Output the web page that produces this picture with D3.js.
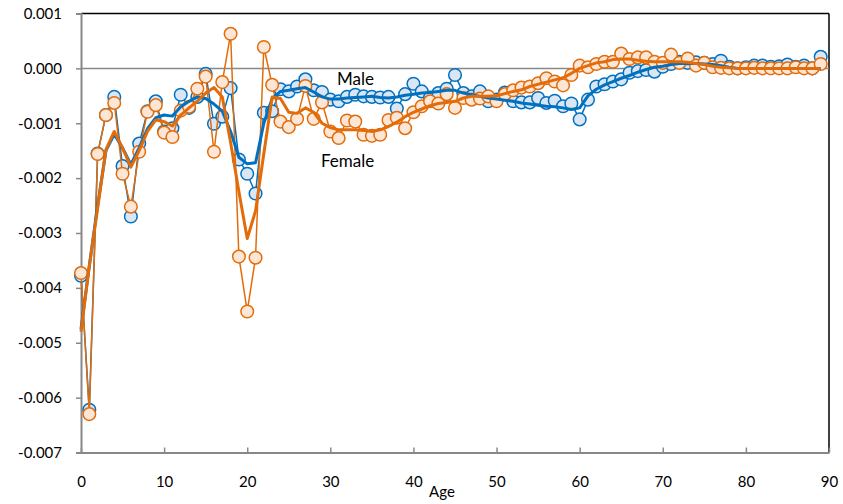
<!DOCTYPE html>
<html><head><meta charset="utf-8">
<script src="https://cdn.jsdelivr.net/npm/d3@7"></script>
<style>
html,body{margin:0;padding:0;background:#fff;}
svg text{font-family:Lato,"Open Sans",sans-serif;fill:#000;}
</style></head><body>
<svg id="chart" width="843" height="504"></svg>
<script>
const ages = d3.range(0, 90);
const maleValues = [-3.78,-6.22,-1.55,-0.85,-0.52,-1.78,-2.70,-1.37,-0.78,-0.60,
 -1.15,-1.09,-0.48,-0.72,-0.52,-0.10,-1.01,-0.88,-0.36,-1.66,
 -1.92,-2.28,-0.81,-0.78,-0.38,-0.42,-0.33,-0.20,-0.40,-0.43,
 -0.57,-0.60,-0.52,-0.48,-0.51,-0.52,-0.53,-0.52,-0.73,-0.47,
 -0.28,-0.42,-0.53,-0.45,-0.37,-0.12,-0.45,-0.51,-0.42,-0.60,
 -0.57,-0.44,-0.60,-0.62,-0.62,-0.54,-0.63,-0.59,-0.69,-0.64,
 -0.93,-0.57,-0.33,-0.29,-0.24,-0.20,-0.08,-0.05,-0.03,-0.06,
 0.03,0.08,0.12,0.10,0.11,0.10,0.08,0.14,0.03,0.00,
 0.02,0.05,0.05,0.03,0.04,0.07,0.03,0.05,0.00,0.21];
const femaleValues = [-3.73,-6.30,-1.56,-0.85,-0.63,-1.92,-2.52,-1.52,-0.79,-0.67,
 -1.17,-1.25,-0.77,-0.70,-0.37,-0.15,-1.52,-0.25,0.63,-3.43,
 -4.43,-3.45,0.39,-0.30,-0.97,-1.07,-0.92,-0.32,-0.92,-0.62,
 -1.15,-1.27,-0.95,-0.97,-1.21,-1.23,-1.21,-0.94,-0.90,-1.09,
 -0.80,-0.69,-0.60,-0.64,-0.47,-0.72,-0.54,-0.57,-0.55,-0.51,
 -0.60,-0.47,-0.40,-0.35,-0.33,-0.27,-0.18,-0.24,-0.31,-0.12,
 0.05,0.02,0.08,0.12,0.12,0.27,0.17,0.20,0.20,0.12,
 0.10,0.25,0.10,0.18,0.05,0.10,0.02,0.01,0.00,0.00,
 0.00,0.01,0.00,0.00,0.00,0.00,0.02,0.00,0.00,0.08];
const maleTrend = [-4.75,-3.60,-2.50,-1.50,-1.20,-1.45,-1.75,-1.45,-1.10,-0.90,
 -0.85,-0.87,-0.70,-0.60,-0.52,-0.55,-0.65,-0.78,-1.15,-1.62,
 -1.74,-1.72,-1.00,-0.55,-0.42,-0.40,-0.37,-0.35,-0.43,-0.52,
 -0.56,-0.56,-0.54,-0.53,-0.52,-0.51,-0.53,-0.54,-0.52,-0.49,
 -0.47,-0.45,-0.44,-0.42,-0.40,-0.40,-0.45,-0.48,-0.51,-0.54,
 -0.56,-0.58,-0.60,-0.63,-0.65,-0.67,-0.69,-0.70,-0.72,-0.75,
 -0.72,-0.50,-0.38,-0.30,-0.24,-0.18,-0.13,-0.07,-0.02,0.02,
 0.04,0.07,0.09,0.09,0.09,0.08,0.07,0.05,0.02,0.00,
 0.00,0.00,0.00,0.00,0.00,0.00,0.00,0.00,0.00,0.00];
const femaleTrend = [-4.80,-3.60,-2.55,-1.48,-1.15,-1.45,-1.80,-1.50,-1.15,-0.94,
 -0.97,-1.05,-0.85,-0.72,-0.60,-0.45,-0.35,-0.52,-1.35,-2.25,
 -3.10,-2.60,-1.55,-0.52,-0.55,-0.80,-0.82,-0.72,-0.80,-1.00,
 -1.08,-1.12,-1.12,-1.12,-1.13,-1.15,-1.12,-1.06,-0.98,-0.88,
 -0.80,-0.74,-0.68,-0.64,-0.62,-0.60,-0.54,-0.51,-0.51,-0.51,
 -0.50,-0.46,-0.42,-0.39,-0.33,-0.29,-0.25,-0.21,-0.17,-0.09,
 0.00,0.05,0.10,0.12,0.16,0.17,0.17,0.15,0.13,0.12,
 0.12,0.12,0.12,0.11,0.09,0.07,0.04,0.02,0.01,0.00,
 0.00,0.00,0.00,0.00,0.00,0.00,0.00,0.00,0.00,0.00];
const yTicks = [0.001,0,-0.001,-0.002,-0.003,-0.004,-0.005,-0.006,-0.007];
const xTicks = [0,10,20,30,40,50,60,70,80,90];
const seriesLabels = ["Male","Female"];
const xTitle = "Age";

const svg = d3.select("#chart");
const x = d3.scaleLinear().domain([0,90]).range([81,829]);
const y = d3.scaleLinear().domain([-0.007,0.001]).range([452.5,13.5]);
const blue = "#0070C0", blueFill = "#DAE6F3";
const orange = "#E36C0A", orangeFill = "#FDE6D5";

// frame top/right
svg.append("line").attr("x1",x(0)).attr("x2",x(90)).attr("y1",y(0.001)).attr("y2",y(0.001)).attr("stroke","#000").attr("stroke-width",1.5);
svg.append("line").attr("x1",x(90)).attr("x2",x(90)).attr("y1",y(0.001)).attr("y2",y(-0.007)).attr("stroke","#000").attr("stroke-width",1.5);
// zero line
svg.append("line").attr("x1",x(0)).attr("x2",x(90)).attr("y1",y(0)).attr("y2",y(0)).attr("stroke","#888").attr("stroke-width",1.5);

// y axis
const yAxis = svg.append("g").attr("transform",`translate(${x(0)},0)`)
  .call(d3.axisLeft(y).tickValues(yTicks).tickSize(5).tickPadding(14)
    .tickFormat(d => d3.format(".3f")(d).replace("\u2212","-")));
yAxis.select(".domain").attr("stroke","#888").attr("stroke-width",2);
yAxis.selectAll(".tick line").attr("stroke","#888").attr("stroke-width",1.5);
yAxis.selectAll(".tick text").style("font-size","15px").style("font-family","Lato, sans-serif");

// x axis (ticks inward)
const xAxis = svg.append("g").attr("transform",`translate(0,${y(-0.007)})`)
  .call(d3.axisBottom(x).tickValues(xTicks).tickSizeInner(-5).tickSizeOuter(0).tickPadding(24).tickFormat(d3.format("d")));
xAxis.select(".domain").attr("stroke","#888").attr("stroke-width",2);
xAxis.selectAll(".tick line").attr("stroke","#888").attr("stroke-width",1.5);
xAxis.selectAll(".tick text").style("font-size","15px").style("font-family","Lato, sans-serif");

svg.append("text").attr("x",442).attr("y",497).attr("text-anchor","middle")
  .style("font-size","15px").text(xTitle);

const line = d3.line().x((d,i)=>x(ages[i])).y(d=>y(d/1000));

function drawPoints(vals, stroke, fill){
  svg.append("path").datum(vals).attr("d",line).attr("fill","none").attr("stroke",stroke).attr("stroke-width",1.5);
  svg.append("g").selectAll("circle").data(vals).join("circle")
    .attr("cx",(d,i)=>x(ages[i])).attr("cy",d=>y(d/1000)).attr("r",6.3)
    .attr("fill",fill).attr("stroke",stroke).attr("stroke-width",1.5);
}
drawPoints(maleValues, blue, blueFill);
drawPoints(femaleValues, orange, orangeFill);
svg.append("path").datum(maleTrend).attr("d",line).attr("fill","none").attr("stroke",blue).attr("stroke-width",3).attr("stroke-linejoin","round");
svg.append("path").datum(femaleTrend).attr("d",line).attr("fill","none").attr("stroke",orange).attr("stroke-width",3).attr("stroke-linejoin","round");

svg.append("text").attr("x",337).attr("y",85).style("font-size","17px").text(seriesLabels[0]);
svg.append("text").attr("x",321).attr("y",167).style("font-size","17px").text(seriesLabels[1]);
</script>
</body></html>
